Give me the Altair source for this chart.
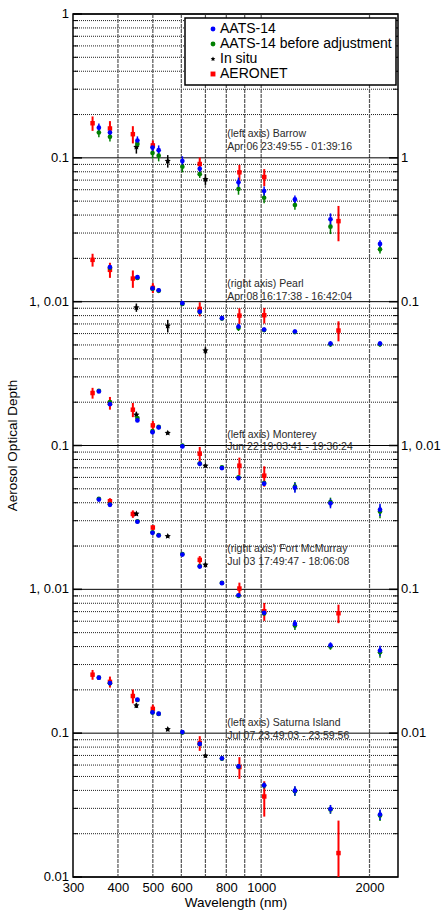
import altair as alt
import pandas as pd

FONT = "Liberation Sans"

# ---------------- data ----------------
SERIES = ["AATS-14", "AATS-14 before adjustment", "In situ", "AERONET"]
SERIES_COLORS = ["#0000ff", "#008000", "#000000", "#ff0000"]
STAR = "M0,-1L0.29,-0.4L0.95,-0.31L0.48,0.15L0.59,0.81L0,0.5L-0.59,0.81L-0.48,0.15L-0.95,-0.31L-0.29,-0.4Z"
SERIES_SHAPES = ["circle", "circle", STAR, "square"]

SITES = ["Barrow", "Pearl", "Monterey", "Fort McMurray", "Saturna Island"]
SITE_AXIS = ["left", "right", "left", "right", "left"]
SITE_TIMES = ["Apr 06 23:49:55 - 01:39:16", "Apr 08 16:17:38 - 16:42:04",
              "Jun 22 19:03:41 - 19:36:24", "Jul 03 17:49:47 - 18:06:08",
              "Jul 07 23:49:03 - 23:59:56"]
# stacking factor of each site's axis within the shared 6-decade frame
SITE_FACTOR = [1, 1e-1, 1e-2, 1e-3, 1e-4]
LABEL_WL = 805
LABEL_AOD = [0.1388, 0.126, 0.1133, 0.181, 0.1115]

AATS_WL = [354, 380, 453, 499, 519, 604, 675, 778, 865, 1019, 1241, 1558, 2139]
BARROW_AATS = [0.162, 0.150, 0.132, 0.118, 0.113, 0.095, 0.084, None, 0.0676, 0.0588, 0.0514, 0.0374, 0.0252]
BARROW_BEFORE = [0.150, 0.140, 0.125, 0.108, 0.1035, 0.0867, 0.077, None, 0.0607, 0.0528, 0.047, 0.0332, 0.0231]
BARROW_AATS_ERR = [0.011, 0.010, 0.009, 0.009, 0.009, 0.0075, 0.0045, None, 0.0053, 0.0044, 0.0034, 0.0037, 0.0015]
PEARL_AATS = [None, 0.174, 0.148, 0.124, 0.120, 0.0976, 0.0853, 0.0768, 0.0671, 0.064, 0.062, 0.0511, 0.0511]
PEARL_BEFORE = [None, 0.172, 0.146, 0.123, 0.119, 0.0965, 0.0848, 0.0763, 0.0655, 0.0635, 0.0615, 0.0505, 0.0505]
PEARL_AATS_ERR = [None, 0.005, 0.004, 0.004, 0.004, 0.003, 0.003, 0.002, 0.003, 0.002, 0.002, 0.002, 0.002]
MONTEREY_AATS = [0.2377, 0.1937, 0.1494, 0.1238, 0.1336, 0.0986, 0.0747, 0.0697, 0.0594, 0.0543, 0.0509, 0.0396, 0.0358]
MONTEREY_BEFORE = [0.2400, 0.200, 0.155, 0.1258, 0.1347, 0.0997, 0.075, 0.0704, 0.060, 0.0548, 0.0517, 0.0404, 0.0347]
MONTEREY_AATS_ERR = [0.005, 0.005, 0.004, 0.004, 0.004, 0.003, 0.003, 0.002, 0.002, 0.002, 0.004, 0.003, 0.0035]
FMM_AATS = [0.421, 0.387, 0.295, 0.247, 0.2367, 0.1745, 0.144, 0.1103, 0.091, 0.0687, 0.0575, 0.0408, 0.0375]
FMM_BEFORE = [0.426, 0.39, 0.297, 0.249, 0.238, 0.176, 0.145, 0.111, 0.090, 0.068, 0.056, 0.040, 0.0365]
FMM_AATS_ERR = [0.006, 0.006, 0.005, 0.004, 0.004, 0.003, 0.003, 0.002, 0.002, 0.002, 0.0038, 0.002, 0.003]
SATURNA_AATS = [0.2432, 0.223, 0.171, 0.1395, 0.1367, 0.1018, 0.0842, 0.0668, 0.0587, 0.0434, 0.0398, 0.0297, 0.0272]
SATURNA_BEFORE = [0.243, 0.222, 0.170, 0.139, 0.136, 0.101, 0.084, 0.0665, 0.0585, 0.0432, 0.0395, 0.0295, 0.0268]
SATURNA_AATS_ERR = [0.004, 0.004, 0.003, 0.003, 0.003, 0.002, 0.002, 0.002, 0.002, 0.002, 0.003, 0.002, 0.0023]

AERONET_WL = [340, 380, 440, 500, 675, 870, 1020, 1640]
AERONET_ERR = [0.02, 0.02, 0.02, 0.01, 0.01, 0.01, 0.01, 0.01]
BARROW_AERONET = [0.174, 0.160, 0.146, 0.122, 0.0906, 0.0793, 0.0735, 0.0363]
PEARL_AERONET = [0.1953, 0.1664, 0.1448, 0.1247, 0.0891, 0.080, 0.0805, 0.063]
MONTEREY_AERONET = [0.2317, 0.1975, 0.1774, 0.138, 0.0877, 0.0724, 0.0617, None]
FMM_AERONET = [None, 0.410, 0.334, 0.269, 0.1603, 0.1013, 0.0704, 0.0682]
SATURNA_AERONET = [0.2551, 0.2274, 0.1812, 0.1476, 0.0853, 0.0581, 0.0363, 0.01467]

INSITU_WL = [450, 550, 700]
BARROW_INSITU = [0.119, 0.095, 0.0709]
BARROW_INSITU_ERR = [0.012, 0.0095, 0.006]
PEARL_INSITU = [0.091, 0.0679, 0.0457]
PEARL_INSITU_ERR = [0.006, 0.0068, 0.0025]
MONTEREY_INSITU = [0.1637, 0.1222, 0.0724]
MONTEREY_INSITU_ERR = [0.008, 0.003, 0.002]
FMM_INSITU = [0.335, 0.234, 0.148]
FMM_INSITU_ERR = [0.008, 0.006, 0.004]
SATURNA_INSITU = [0.1556, 0.1063, 0.0697]
SATURNA_INSITU_ERR = [0.006, 0.003, 0.002]

X_TICKS = [300, 400, 500, 600, 800, 1000, 2000]
V_GRID = [400, 500, 600, 700, 800, 900, 1000, 2000]
LEFT_LABELS = ["1", "0.1", "1, 0.01", "0.1", "1, 0.01", "0.1", "0.01"]
RIGHT_LABELS = ["1", "0.1", "1, 0.01", "0.1", "0.01"]
Y_TITLE = "Aerosol Optical Depth"

# ---------------- build tables ----------------
site_data = [
    (BARROW_AATS, BARROW_BEFORE, BARROW_AATS_ERR, BARROW_AERONET, BARROW_INSITU, BARROW_INSITU_ERR),
    (PEARL_AATS, PEARL_BEFORE, PEARL_AATS_ERR, PEARL_AERONET, PEARL_INSITU, PEARL_INSITU_ERR),
    (MONTEREY_AATS, MONTEREY_BEFORE, MONTEREY_AATS_ERR, MONTEREY_AERONET, MONTEREY_INSITU, MONTEREY_INSITU_ERR),
    (FMM_AATS, FMM_BEFORE, FMM_AATS_ERR, FMM_AERONET, FMM_INSITU, FMM_INSITU_ERR),
    (SATURNA_AATS, SATURNA_BEFORE, SATURNA_AATS_ERR, SATURNA_AERONET, SATURNA_INSITU, SATURNA_INSITU_ERR),
]
MSIZE = {"AATS-14": 22, "AATS-14 before adjustment": 22, "In situ": 42, "AERONET": 20}
EWIDTH = {"AATS-14": 1.5, "AATS-14 before adjustment": 1.5, "In situ": 1.5, "AERONET": 2}
COLOR_OF = dict(zip(SERIES, SERIES_COLORS))

rows = []


def add(series, site_i, wls, vals, errs):
    f = SITE_FACTOR[site_i]
    for wl, v, e in zip(wls, vals, errs):
        if v is None:
            continue
        rows.append(dict(site=SITES[site_i], series=series, wl=wl, v=v * f,
                         lo=(v - e) * f, hi=(v + e) * f,
                         ecolor=COLOR_OF[series], msize=MSIZE[series], ew=EWIDTH[series]))


# drawing order: AERONET, In situ, before adjustment, AATS-14 on top
for i, d in enumerate(site_data):
    add("AERONET", i, AERONET_WL, d[3], AERONET_ERR)
for i, d in enumerate(site_data):
    add("In situ", i, INSITU_WL, d[4], d[5])
for i, d in enumerate(site_data):
    add("AATS-14 before adjustment", i, AATS_WL, d[1], d[2])
for i, d in enumerate(site_data):
    add("AATS-14", i, AATS_WL, d[0], d[2])
df = pd.DataFrame(rows)

labels_df = pd.DataFrame({
    "wl": [LABEL_WL] * len(SITES),
    "v": [a * f for a, f in zip(LABEL_AOD, SITE_FACTOR)],
    "txt": [f"({ax} axis) {s}\n{t}" for ax, s, t in zip(SITE_AXIS, SITES, SITE_TIMES)],
})

MAJOR = [10.0 ** (-k) for k in range(0, 7)]
MINOR = [m * 10.0 ** (-k) for k in range(1, 7) for m in range(2, 10)]
RIGHT_VALUES = [10.0 ** (-k) for k in range(1, 6)]

W, H = 325, 863
yscale = alt.Scale(type="log", domain=[1e-6, 1], nice=False)
xscale = alt.Scale(type="log", domain=[300, 2400], nice=False)

xaxis = alt.Axis(orient="bottom", values=X_TICKS, format="d", grid=False, ticks=False, domain=False,
                 labelFlush=False, labelPadding=4, titlePadding=1, labelOverlap=False,
                 title="Wavelength (nm)")
X = alt.X("wl:Q", scale=xscale, axis=xaxis)


def Yf(field):
    return alt.Y(field, scale=yscale, axis=None)


minor_df = pd.DataFrame({"v": MINOR})
major_df = pd.DataFrame({"v": MAJOR})

h_minor = alt.Chart(minor_df).mark_rule(color="#222222", strokeDash=[1, 1], strokeWidth=1).encode(
    y=Yf("v:Q"))
v_grid = alt.Chart(pd.DataFrame({"wl": V_GRID})).mark_rule(
    color="#555555", strokeWidth=1.2, strokeDash=[4, 1]).encode(x=X)
h_major = alt.Chart(major_df).mark_rule(color="black", strokeWidth=1).encode(y=Yf("v:Q"))

right_ticks = alt.Chart(pd.DataFrame({"v": RIGHT_VALUES})).mark_rule(color="black", strokeWidth=1.5).encode(
    y=Yf("v:Q"), x=alt.value(W - 9), x2=alt.value(W))
left_major_ticks = alt.Chart(major_df).mark_rule(color="black", strokeWidth=1.5).encode(
    y=Yf("v:Q"), x=alt.value(0), x2=alt.value(9))
left_minor_ticks = alt.Chart(minor_df).mark_rule(color="black", strokeWidth=1).encode(
    y=Yf("v:Q"), x=alt.value(0), x2=alt.value(5))
right_minor_ticks = alt.Chart(minor_df).mark_rule(color="black", strokeWidth=1).encode(
    y=Yf("v:Q"), x=alt.value(W - 5), x2=alt.value(W))

left_labels = alt.Chart(pd.DataFrame({"v": MAJOR, "lab": LEFT_LABELS})).mark_text(
    align="right", baseline="middle", fontSize=13, font=FONT, color="black").encode(
    y=Yf("v:Q"), x=alt.value(-4), text="lab:N")
right_labels = alt.Chart(pd.DataFrame({"v": RIGHT_VALUES, "lab": RIGHT_LABELS})).mark_text(
    align="left", baseline="middle", fontSize=13, font=FONT, color="black").encode(
    y=Yf("v:Q"), x=alt.value(W + 3), text="lab:N")
y_title = alt.Chart(pd.DataFrame({"t": [Y_TITLE]})).mark_text(
    angle=270, align="center", baseline="middle", fontSize=13.5, font=FONT, color="black").encode(
    x=alt.value(-60), y=alt.value(H / 2), text="t:N")

errbars = alt.Chart(df).mark_rule(clip=True).encode(
    x=X,
    y=Yf("lo:Q"),
    y2="hi:Q",
    stroke=alt.Stroke("ecolor:N", scale=None),
    strokeWidth=alt.StrokeWidth("ew:Q", scale=None),
)

legend = alt.Legend(orient="none", legendX=112, legendY=4, title=None,
                    padding=4, strokeColor="black", fillColor="white",
                    labelFontSize=14, labelFont=FONT, labelColor="black", labelLimit=300,
                    symbolSize=24, symbolStrokeWidth=0, symbolOffset=17,
                    labelOffset=0, rowPadding=1)

points = alt.Chart(df).mark_point(filled=True, opacity=1, clip=True).encode(
    x=X,
    y=Yf("v:Q"),
    color=alt.Color("series:N", scale=alt.Scale(domain=SERIES, range=SERIES_COLORS), legend=legend),
    shape=alt.Shape("series:N", scale=alt.Scale(domain=SERIES, range=SERIES_SHAPES), legend=legend),
    size=alt.Size("msize:Q", scale=None),
)

texts = alt.Chart(labels_df).mark_text(align="left", baseline="alphabetic", lineBreak="\n",
                                       lineHeight=12.4, fontSize=10.5, font=FONT,
                                       color="#2a2a2a").encode(
    x=X, y=Yf("v:Q"), text="txt:N")

chart = alt.layer(
    h_minor, v_grid, h_major, right_ticks, left_major_ticks, left_minor_ticks,
    right_minor_ticks, left_labels, right_labels, y_title, errbars, points, texts
).properties(
    width=W, height=H,
    autosize=alt.AutoSizeParams(type="none"),
    padding={"left": 73, "top": 14, "right": 45, "bottom": 33},
).configure_view(stroke="black", strokeWidth=1.5).configure_axis(
    labelFont=FONT, titleFont=FONT, labelFontSize=13, titleFontSize=13.5,
    labelColor="black", titleColor="black", titleFontWeight="normal"
).configure_legend(strokeWidth=1.5)

chart.save("out.html", embed_options={"renderer": "svg", "actions": False})
